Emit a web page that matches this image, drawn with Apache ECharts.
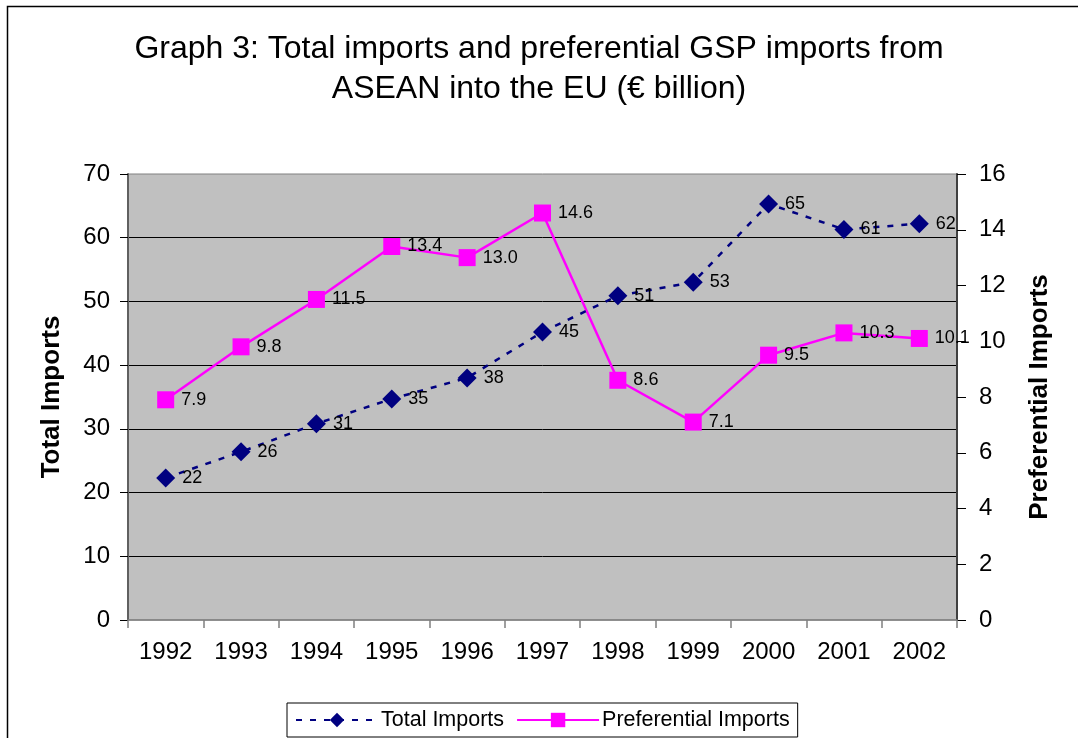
<!DOCTYPE html>
<html>
<head>
<meta charset="utf-8">
<script src="https://cdn.jsdelivr.net/npm/echarts@6/dist/echarts.min.js"></script>
<style>
  html,body{margin:0;padding:0;background:#fff;}
  #main{width:1078px;height:738px;}
</style>
</head>
<body>
<div id="main"></div>
<script>
// data
var years = ['1992','1993','1994','1995','1996','1997','1998','1999','2000','2001','2002'];
var totalImports = [22.3, 26.4, 30.8, 34.7, 38.0, 45.2, 50.9, 53.0, 65.3, 61.3, 62.2];
var prefImports = [7.9, 9.8, 11.5, 13.4, 13.0, 14.6, 8.6, 7.1, 9.5, 10.3, 10.1];

var FONT = '"Liberation Sans", Arial, sans-serif';

var chart = echarts.init(document.getElementById('main'), null, {renderer: 'canvas'});

var option = {
  animation: false,
  textStyle: {fontFamily: FONT, color: '#000'},
  title: {
    text: 'Graph 3: Total imports and preferential GSP imports from\nASEAN into the EU (€ billion)',
    left: 'center',
    top: 24,
    textStyle: {fontFamily: FONT, fontSize: 32, fontWeight: 'normal', color: '#000', lineHeight: 40}
  },
  graphic: [{
    type: 'rect',
    shape: {x: 7.5, y: 6.5, width: 1100, height: 760},
    style: {fill: 'none', stroke: '#000', lineWidth: 1.5},
    silent: true
  }],
  legend: {
    left: 287,
    top: 703,
    padding: [6, 8],
    itemGap: 12,
    itemWidth: 82,
    itemHeight: 18,
    borderColor: '#000',
    borderWidth: 1,
    backgroundColor: '#fff',
    textStyle: {fontFamily: FONT, fontSize: 21.5, color: '#000', padding: [0, 0, 0, -2]},
    data: ['Total Imports', 'Preferential Imports']
  },
  grid: {
    left: 128, right: 121, top: 174, bottom: 118,
    show: true,
    backgroundColor: '#c0c0c0',
    borderColor: '#808080',
    borderWidth: 1
  },
  xAxis: {
    type: 'category',
    data: years,
    boundaryGap: true,
    axisLine: {lineStyle: {color: '#808080', width: 1.5}},
    axisTick: {show: true, length: 8, lineStyle: {color: '#808080', width: 1.5}},
    axisLabel: {fontFamily: FONT, fontSize: 24, color: '#000', margin: 20}
  },
  yAxis: [{
    type: 'value',
    min: 0, max: 70, interval: 10,
    name: 'Total Imports',
    nameLocation: 'middle',
    nameGap: 63,
    nameTextStyle: {fontFamily: FONT, fontSize: 26, fontWeight: 'bold', color: '#000'},
    axisLine: {show: true, lineStyle: {color: '#606060', width: 2}},
    axisTick: {show: true, length: 8, lineStyle: {color: '#000'}},
    axisLabel: {fontFamily: FONT, fontSize: 24, color: '#000', margin: 18},
    splitLine: {show: true, showMinLine: false, showMaxLine: false, lineStyle: {color: '#000', width: 1}}
  }, {
    type: 'value',
    min: 0, max: 16, interval: 2,
    position: 'right',
    name: 'Preferential Imports',
    nameLocation: 'middle',
    nameGap: 70,
    nameTextStyle: {fontFamily: FONT, fontSize: 26, fontWeight: 'bold', color: '#000'},
    axisLine: {show: true, lineStyle: {color: '#404040', width: 2}},
    axisTick: {show: true, length: 9, lineStyle: {color: '#000'}},
    axisLabel: {fontFamily: FONT, fontSize: 24, color: '#000', margin: 22},
    splitLine: {show: false}
  }],
  series: [{
    name: 'Total Imports',
    type: 'line',
    yAxisIndex: 0,
    data: totalImports,
    symbol: 'diamond',
    symbolSize: 19,
    itemStyle: {color: '#000080'},
    lineStyle: {color: '#000080', width: 2.5, type: [6, 8]},
    label: {
      show: true, position: 'right', distance: 7,
      fontFamily: FONT, fontSize: 18, color: '#000',
      formatter: function (p) { return Math.round(p.value); }
    },
    z: 3
  }, {
    name: 'Preferential Imports',
    type: 'line',
    yAxisIndex: 1,
    data: prefImports,
    symbol: 'rect',
    symbolSize: 17,
    itemStyle: {color: '#ff00ff'},
    lineStyle: {color: '#ff00ff', width: 2.5},
    label: {
      show: true, position: 'right', distance: 7,
      fontFamily: FONT, fontSize: 18, color: '#000',
      formatter: function (p) { return p.value.toFixed(1); }
    },
    z: 2
  }]
};

chart.setOption(option);
</script>
</body>
</html>
